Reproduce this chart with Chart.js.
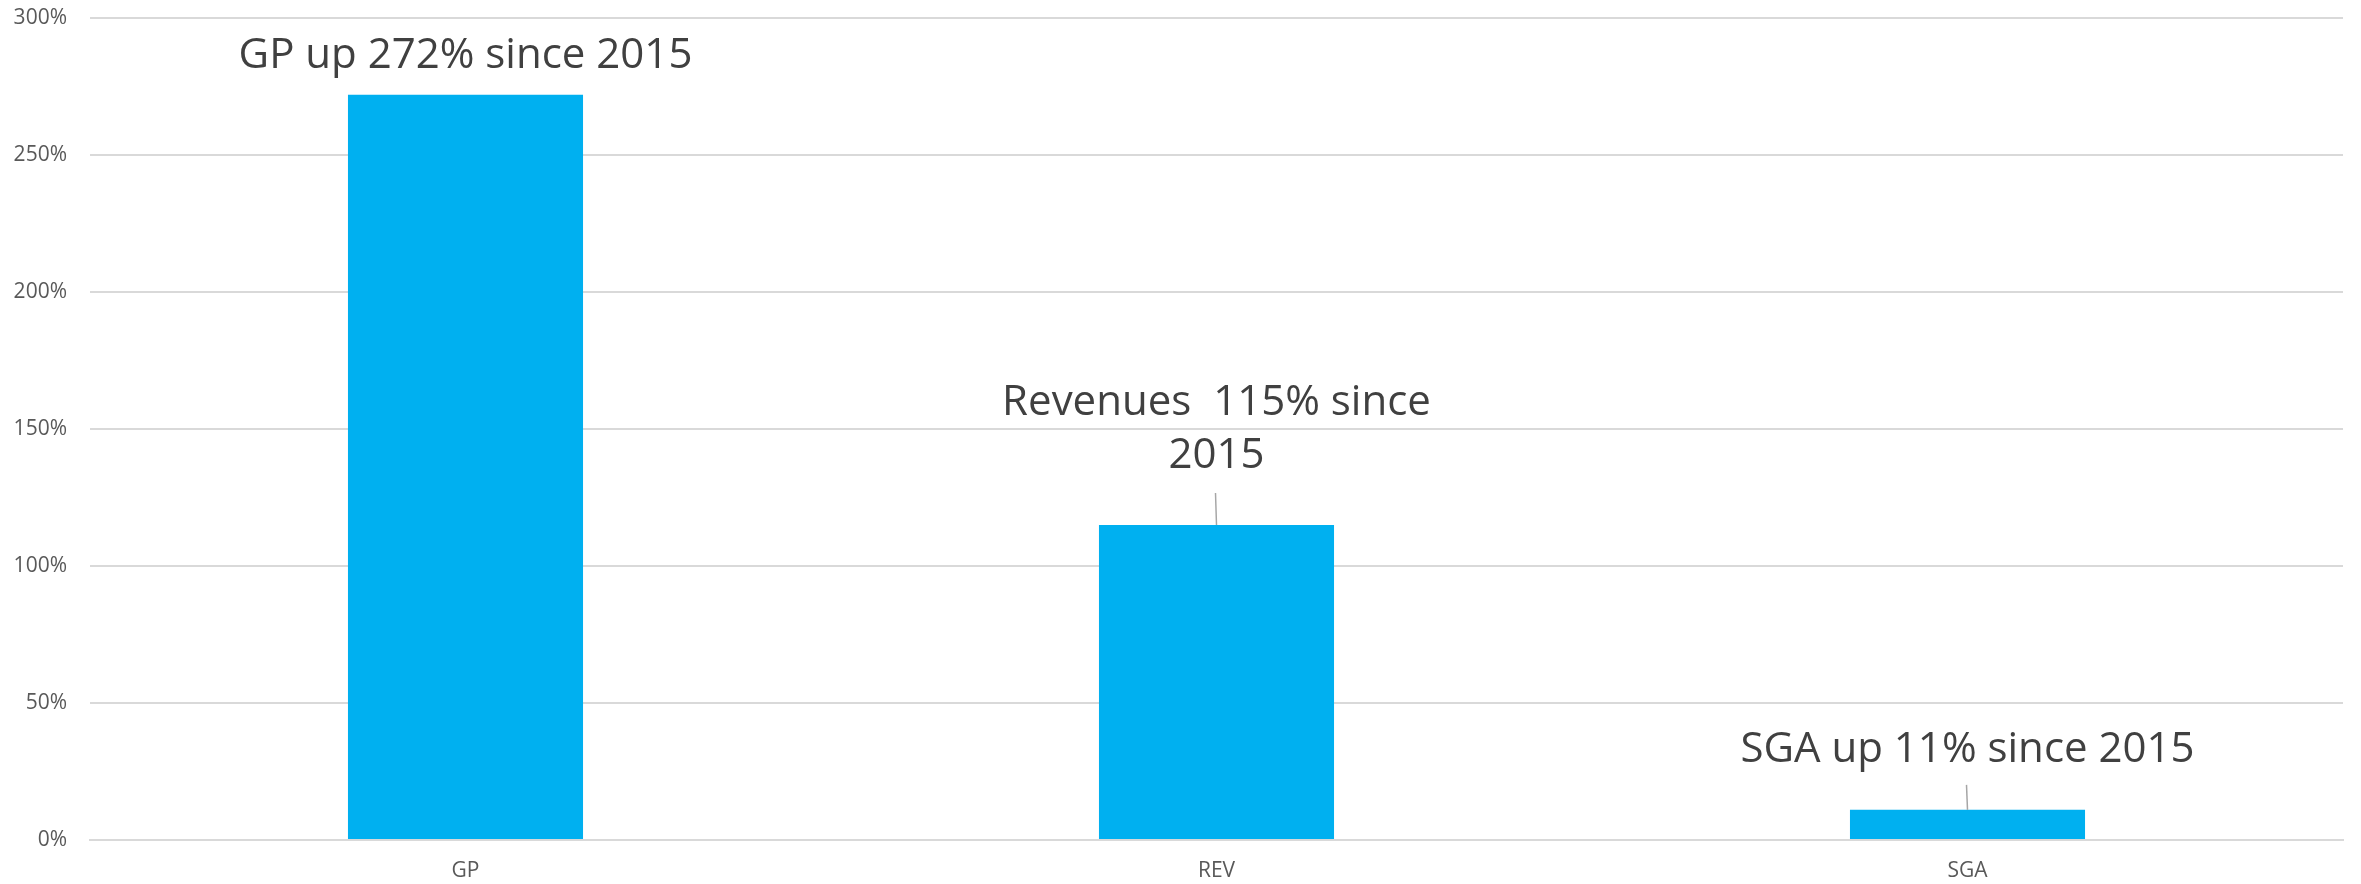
<!DOCTYPE html>
<html>
<head>
<meta charset="utf-8">
<script src="https://cdn.jsdelivr.net/npm/chart.js@4/dist/chart.umd.min.js"></script>
<style>
  html, body { margin: 0; padding: 0; background: #fff; }
  #wrap { width: 2361px; height: 884px; }
</style>
</head>
<body>
<div id="wrap"><canvas id="growth"></canvas></div>
<script>
// growth since 2015, in percent
const categories = ['GP', 'REV', 'SGA'];
const growthPct = [272, 115, 11];
const yTicks = [0, 50, 100, 150, 200, 250, 300];
const callouts = [
    ['GP up 272% since 2015'],
    ['Revenues  115% since', '2015'],
    ['SGA up 11% since 2015']
];

const BAR_BLUE = '#00B0F0';
const GRID_GREY = '#d9d9d9';
const FONT = '"Open Sans", Lato, sans-serif';

// callout text above each bar, with a short leader line when it sits further up
const calloutPlugin = {
    id: 'callouts',
    afterDatasetsDraw(chart, args, opts) {
        const ctx = chart.ctx;
        const meta = chart.getDatasetMeta(0);
        const yScale = chart.scales.y;
        ctx.save();
        ctx.font = opts.fontSize + 'px ' + FONT;
        ctx.fillStyle = '#404040';
        ctx.textAlign = 'center';
        ctx.textBaseline = 'middle';
        meta.data.forEach((bar, i) => {
            const lines = callouts[i];
            const top = yScale.getPixelForValue(growthPct[i]);
            const gap = opts.gaps[i];
            const lastY = top - gap;
            lines.forEach((txt, k) => {
                const y = lastY - (lines.length - 1 - k) * opts.lineHeight;
                ctx.fillText(txt, bar.x, y);
            });
            if (opts.leaders[i]) {
                ctx.strokeStyle = '#a6a6a6';
                ctx.lineWidth = 1.5;
                ctx.beginPath();
                ctx.moveTo(bar.x - 1, lastY + opts.leaders[i]);
                ctx.lineTo(bar.x, top);
                ctx.stroke();
            }
        });
        ctx.restore();
    }
};

new Chart(document.getElementById('growth').getContext('2d'), {
    type: 'bar',
    data: {
        labels: categories,
        datasets: [{
            data: growthPct,
            backgroundColor: BAR_BLUE,
            borderWidth: 0,
            categoryPercentage: 1,
            barPercentage: 0.313
        }]
    },
    options: {
        responsive: true,
        maintainAspectRatio: false,
        animation: false,
        layout: { padding: { top: 18, right: 18, left: 0, bottom: 0 } },
        plugins: {
            legend: { display: false },
            tooltip: { enabled: false },
            callouts: {
                fontSize: 42,
                lineHeight: 53,
                gaps: [39, 69, 60],
                leaders: [0, 37, 35]
            }
        },
        scales: {
            x: {
                grid: { display: false, drawTicks: false },
                border: { display: true, color: GRID_GREY, width: 2 },
                ticks: {
                    color: '#595959',
                    font: { family: FONT, size: 21 },
                    padding: 18
                },
                afterFit(scale) {
                    scale.height = 44;
                    scale.paddingLeft = 0;
                    scale.paddingRight = 0;
                }
            },
            y: {
                min: 0,
                max: 300,
                grid: { color: GRID_GREY, lineWidth: 2, drawTicks: false },
                border: { display: false },
                afterBuildTicks(scale) {
                    scale.ticks = yTicks.map(v => ({ value: v }));
                },
                ticks: {
                    color: '#595959',
                    font: { family: FONT, size: 21 },
                    padding: 23,
                    callback: v => v + '%'
                },
                afterFit(scale) {
                    scale.width = 90;
                    scale.paddingTop = 0;
                    scale.paddingBottom = 0;
                }
            }
        }
    },
    plugins: [calloutPlugin]
});
</script>
</body>
</html>
